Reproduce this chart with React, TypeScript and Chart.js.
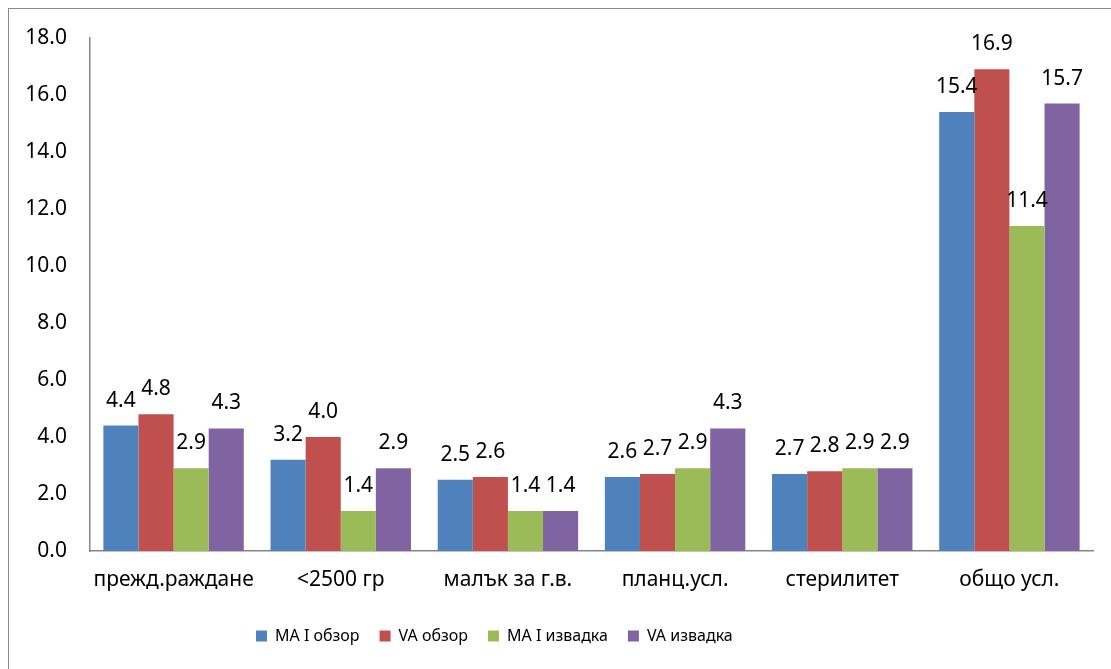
import React, { useEffect, useRef } from "react";
import { Chart, registerables } from "chart.js";

Chart.register(...registerables);

const categories = ["прежд.раждане", "<2500 гр", "малък за г.в.", "планц.усл.", "стерилитет", "общо усл."];
const seriesNames = ["МА I обзор", "VA обзор", "МА I извадка", "VA извадка"];
const maObzor = [4.4, 3.2, 2.5, 2.6, 2.7, 15.4];
const vaObzor = [4.8, 4.0, 2.6, 2.7, 2.8, 16.9];
const maIzvadka = [2.9, 1.4, 1.4, 2.9, 2.9, 11.4];
const vaIzvadka = [4.3, 2.9, 1.4, 4.3, 2.9, 15.7];
const seriesColors = ["#4F81BD", "#C0504D", "#9BBB59", "#8064A2"];
const yTicks = [0, 2, 4, 6, 8, 10, 12, 14, 16, 18];

const FONT = "'Noto Sans', sans-serif";
const FS = 21;
const LEGEND_FS = 16;
const LEGEND_LEFT = 227;

const labelPlugin = {
  id: "barValueLabels",
  afterDatasetsDraw(chart: any) {
    const ctx = chart.ctx;
    ctx.save();
    ctx.font = `${FS}px ${FONT}`;
    ctx.fillStyle = "#000";
    ctx.textAlign = "center";
    ctx.textBaseline = "alphabetic";
    chart.data.datasets.forEach((ds: any, di: number) => {
      const meta = chart.getDatasetMeta(di);
      meta.data.forEach((bar: any, i: number) => {
        const v = ds.data[i] as number;
        ctx.fillText(v.toFixed(1), bar.x, bar.y - 19);
      });
    });
    ctx.restore();
  },
};

const legendShiftPlugin = {
  id: "legendShift",
  beforeDraw(chart: any) {
    if (chart.legend) {
      chart.legend.left = LEGEND_LEFT;
    }
  },
};

export default function App() {
  const ref = useRef<HTMLCanvasElement>(null);
  useEffect(() => {
    if (!ref.current) return;
    const seriesData = [maObzor, vaObzor, maIzvadka, vaIzvadka];
    const chart = new Chart(ref.current, {
      type: "bar",
      data: {
        labels: categories,
        datasets: seriesNames.map((name, i) => ({
          label: name,
          data: seriesData[i],
          backgroundColor: seriesColors[i],
          borderWidth: 0,
          categoryPercentage: 0.84,
          barPercentage: 1.0,
        })),
      },
      options: {
        responsive: false,
        animation: false,
        layout: { padding: { top: 29, right: 18, bottom: 15, left: 0 } },
        plugins: {
          tooltip: { enabled: false },
          legend: {
            display: true,
            position: "bottom",
            align: "start",
            labels: {
              boxWidth: 11,
              boxHeight: 11,
              padding: 20,
              color: "#000",
              font: { family: FONT, size: LEGEND_FS },
            },
          },
        },
        scales: {
          x: {
            grid: { display: false, drawTicks: false },
            border: { display: true, color: "#868686", width: 1.5 },
            ticks: { color: "#000", padding: 16, font: { family: FONT, size: FS }, maxRotation: 0, autoSkip: false },
            afterFit: (s: any) => { s.height = 57; s.paddingLeft = 0; s.paddingRight = 0; },
          },
          y: {
            min: 0,
            max: 18,
            afterBuildTicks: (s: any) => { s.ticks = yTicks.map((v) => ({ value: v })); },
            grid: { display: false, drawTicks: false },
            border: { display: true, color: "#868686", width: 1.5 },
            ticks: {
              color: "#000",
              padding: 23,
              font: { family: FONT, size: FS },
              callback: (v: any) => Number(v).toFixed(1),
            },
            afterFit: (s: any) => { s.width = 81; s.paddingTop = 0; s.paddingBottom = 0; },
          },
        },
      },
      plugins: [labelPlugin, legendShiftPlugin],
    });
    return () => chart.destroy();
  }, []);

  return (
    <div style={{ position: "fixed", left: 0, top: 0, right: 0, bottom: 0, overflow: "hidden", background: "#fff" }}>
      <div
        style={{
          position: "absolute",
          left: 8,
          top: 8,
          width: 1120,
          height: 680,
          border: "1px solid #8a8a8a",
          boxSizing: "border-box",
        }}
      >
        <canvas ref={ref} width={1102} height={660} style={{ display: "block", width: 1102, height: 660 }} />
      </div>
    </div>
  );
}
